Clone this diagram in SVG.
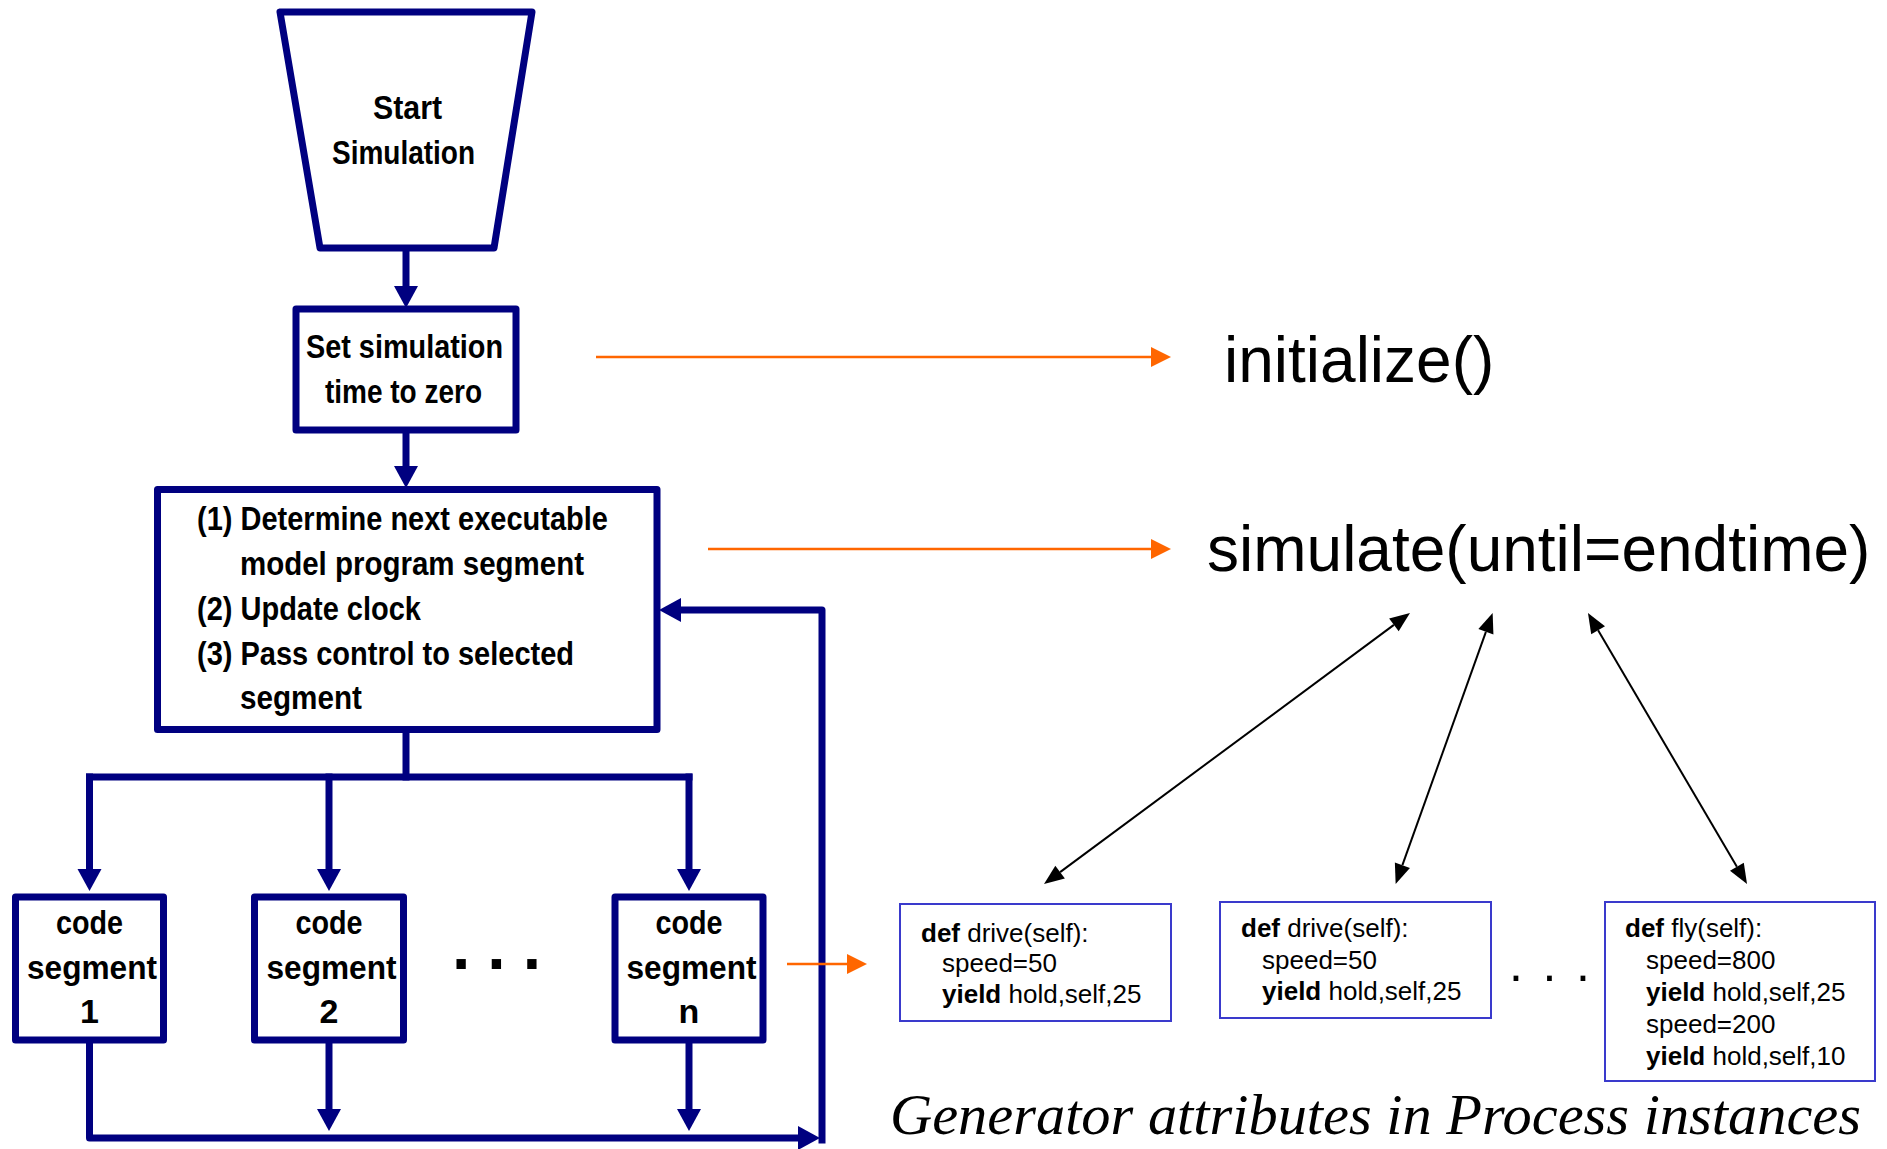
<svg xmlns="http://www.w3.org/2000/svg" width="1887" height="1149" viewBox="0 0 1887 1149">
<style>
.fc{fill:#fff;stroke:#000080;stroke-width:7;stroke-linejoin:round}
.ln{fill:none;stroke:#000080;stroke-width:7;stroke-linejoin:round;stroke-linecap:square}
.ft{font-family:"Liberation Sans",Arial,sans-serif;font-weight:bold;font-size:34px;fill:#000}
.code{font-family:"Liberation Sans",Arial,sans-serif;font-size:26px;fill:#000}
.cb{fill:#fff;stroke:#3A3ACC;stroke-width:2}
.or{fill:none;stroke:#FF6600;stroke-width:2.5}
.bk{fill:none;stroke:#000;stroke-width:2}
.big{font-family:"Liberation Sans",Arial,sans-serif;font-size:64px;fill:#000}
</style>
<defs>
<marker id="ab" markerUnits="userSpaceOnUse" markerWidth="22" markerHeight="24" refX="0" refY="12" orient="auto" overflow="visible"><path d="M0,0 L22,12 L0,24 z" fill="#000080"/></marker>
<marker id="ao" markerUnits="userSpaceOnUse" markerWidth="20" markerHeight="20" refX="0" refY="10" orient="auto" overflow="visible"><path d="M0,0 L20,10 L0,20 z" fill="#FF6600"/></marker>
<marker id="ak" markerUnits="userSpaceOnUse" markerWidth="20" markerHeight="16" refX="0" refY="8" orient="auto-start-reverse" overflow="visible"><path d="M0,0 L20,8 L0,16 z" fill="#000"/></marker>
</defs>
<rect width="1887" height="1149" fill="#fff"/>

<g id="connectors">
<path class="ln" d="M406,248 L406,286" marker-end="url(#ab)"/>
<path class="ln" d="M406,430 L406,466" marker-end="url(#ab)"/>
<path class="ln" d="M406,729 L406,777"/>
<path class="ln" d="M89.5,777 L689,777"/>
<path class="ln" d="M89.5,777 L89.5,869" marker-end="url(#ab)"/>
<path class="ln" d="M329,777 L329,869" marker-end="url(#ab)"/>
<path class="ln" d="M689,777 L689,869" marker-end="url(#ab)"/>
<path class="ln" d="M89.5,1040 L89.5,1138 L798,1138" marker-end="url(#ab)"/>
<path class="ln" d="M329,1040 L329,1109" marker-end="url(#ab)"/>
<path class="ln" d="M689,1040 L689,1109" marker-end="url(#ab)"/>
<path class="ln" d="M822,1140 L822,610 L681,610" marker-end="url(#ab)"/>
<path class="or" d="M596,357 L1151,357" marker-end="url(#ao)"/>
<path class="or" d="M708,549 L1151,549" marker-end="url(#ao)"/>
<path class="or" d="M787,964 L847,964" marker-end="url(#ao)"/>
<path class="bk" d="M1393.9,624.9 L1060.1,872.1" marker-start="url(#ak)" marker-end="url(#ak)"/>
<path class="bk" d="M1485.9,631.8 L1402.4,865.2" marker-start="url(#ak)" marker-end="url(#ak)"/>
<path class="bk" d="M1598.1,630.3 L1736.9,866.8" marker-start="url(#ak)" marker-end="url(#ak)"/>
</g>

<g id="start">
<polygon class="fc" points="280,12 532,12 494,248 320,248"/>
<text class="ft" x="373" y="119" textLength="69" lengthAdjust="spacingAndGlyphs">Start</text>
<text class="ft" x="332" y="164" textLength="143" lengthAdjust="spacingAndGlyphs">Simulation</text>
</g>

<g id="set-time">
<rect class="fc" x="296" y="309" width="220" height="121"/>
<text class="ft" x="306" y="358" textLength="197" lengthAdjust="spacingAndGlyphs">Set simulation</text>
<text class="ft" x="325" y="403" textLength="157" lengthAdjust="spacingAndGlyphs">time to zero</text>
</g>

<g id="scheduler">
<rect class="fc" x="157.5" y="489.5" width="499.5" height="240"/>
<text class="ft" x="197" y="530" textLength="411" lengthAdjust="spacingAndGlyphs">(1) Determine next executable</text>
<text class="ft" x="240" y="575" textLength="344" lengthAdjust="spacingAndGlyphs">model program segment</text>
<text class="ft" x="197" y="620" textLength="224" lengthAdjust="spacingAndGlyphs">(2) Update clock</text>
<text class="ft" x="197" y="665" textLength="377" lengthAdjust="spacingAndGlyphs">(3) Pass control to selected</text>
<text class="ft" x="240" y="709" textLength="122" lengthAdjust="spacingAndGlyphs">segment</text>
</g>

<g id="segment-1">
<rect class="fc" x="15.5" y="897" width="148" height="143"/>
<text class="ft" x="89.5" y="934" text-anchor="middle" textLength="67" lengthAdjust="spacingAndGlyphs">code</text>
<text class="ft" x="92" y="979" text-anchor="middle" textLength="130" lengthAdjust="spacingAndGlyphs">segment</text>
<text class="ft" x="89.5" y="1023" text-anchor="middle">1</text>
</g>
<g id="segment-2">
<rect class="fc" x="254.5" y="897" width="149" height="143"/>
<text class="ft" x="329" y="934" text-anchor="middle" textLength="67" lengthAdjust="spacingAndGlyphs">code</text>
<text class="ft" x="331.5" y="979" text-anchor="middle" textLength="130" lengthAdjust="spacingAndGlyphs">segment</text>
<text class="ft" x="329" y="1023" text-anchor="middle">2</text>
</g>
<g id="segment-n">
<rect class="fc" x="615" y="897" width="148" height="143"/>
<text class="ft" x="689" y="934" text-anchor="middle" textLength="67" lengthAdjust="spacingAndGlyphs">code</text>
<text class="ft" x="691.5" y="979" text-anchor="middle" textLength="130" lengthAdjust="spacingAndGlyphs">segment</text>
<text class="ft" x="689" y="1023" text-anchor="middle">n</text>
</g>
<g id="segment-dots">
<text class="ft" x="452" y="969" letter-spacing="17" style="font-size:66px">...</text>
</g>

<g id="initialize">
<text class="big" x="1224" y="382">initialize()</text>
</g>
<g id="simulate">
<text class="big" x="1207" y="571">simulate(until=endtime)</text>
</g>

<g id="gen-1">
<rect class="cb" x="900" y="904" width="271" height="117"/>
<text class="code" x="921" y="942"><tspan font-weight="bold">def</tspan> drive(self):</text>
<text class="code" x="942" y="972">speed=50</text>
<text class="code" x="942" y="1003"><tspan font-weight="bold">yield</tspan> hold,self,25</text>
</g>
<g id="gen-2">
<rect class="cb" x="1220" y="902" width="271" height="116"/>
<text class="code" x="1241" y="937"><tspan font-weight="bold">def</tspan> drive(self):</text>
<text class="code" x="1262" y="969">speed=50</text>
<text class="code" x="1262" y="1000"><tspan font-weight="bold">yield</tspan> hold,self,25</text>
</g>
<g id="gen-dots">
<text class="code" x="1509" y="981" letter-spacing="19.6" style="font-size:50px">...</text>
</g>
<g id="gen-3">
<rect class="cb" x="1605" y="902" width="270" height="179"/>
<text class="code" x="1625" y="937"><tspan font-weight="bold">def</tspan> fly(self):</text>
<text class="code" x="1646" y="969">speed=800</text>
<text class="code" x="1646" y="1001"><tspan font-weight="bold">yield</tspan> hold,self,25</text>
<text class="code" x="1646" y="1033">speed=200</text>
<text class="code" x="1646" y="1065"><tspan font-weight="bold">yield</tspan> hold,self,10</text>
</g>

<g id="caption">
<text x="890" y="1134" textLength="971" lengthAdjust="spacingAndGlyphs" style="font-family:'Liberation Serif','Times New Roman',serif;font-style:italic;font-size:58px;fill:#000">Generator attributes in Process instances</text>
</g>
</svg>
